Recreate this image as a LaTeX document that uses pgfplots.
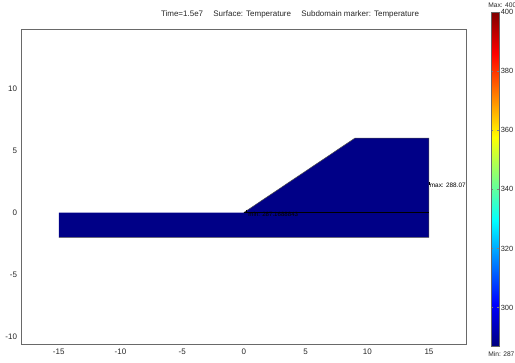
\documentclass[border=0pt]{standalone}
\usepackage{pgfplots}
\pgfplotsset{compat=1.18}
\usepackage{fontspec}
\setmainfont{Liberation Sans}
\definecolor{domainblue}{rgb}{0,0,0.53}
\definecolor{axgray}{RGB}{105,105,105}
\begin{document}
\begin{tikzpicture}[x=1pt,y=1pt]
\useasboundingbox (0,0) rectangle (386.25,271.5);
\begin{axis}[
 at={(16.3pt,13.5pt)}, anchor=south west,
 scale only axis, width=333.2pt, height=236.25pt,
 xmin=-18, xmax=18, ymin=-10.6, ymax=14.8,
 xtick={-15,-10,...,15}, ytick={-10,-5,...,10},
 major tick length=0pt,
 axis line style={axgray, line width=0.6pt},
 tick label style={font=\fontsize{6}{7}\selectfont, text=black!85},
 /pgf/number format/assume math mode=true,
 colormap/jet,
 point meta min=287, point meta max=400,
 colorbar,
 colorbar style={
   at={(parent axis.south east)}, anchor=south west,
   xshift=10.5pt, yshift=-1.5pt,
   scale only axis, width=5.5pt, height=250.5pt,
   ytick={300,320,...,400},
   yticklabel pos=right,
   tick align=inside,
   major tick length=1.5pt,
   axis line style={black!60, line width=0.3pt},
   yticklabel style={font=\fontsize{5.6}{6.5}\selectfont, xshift=-2pt, text=black!85},
   /pgf/number format/assume math mode=true,
 },
]
\addplot[fill=domainblue, draw=none] coordinates {(-15,-2) (15,-2) (15,6) (9,6) (0,0) (-15,0)} -- cycle;
\addplot[draw=black!70, line width=0.4pt] coordinates {(-15,-2) (15,-2) (15,6) (9,6) (0,0)};
\addplot[draw=black, line width=0.5pt] coordinates {(0,0) (15,0)};
\addplot[only marks, mark=|, mark size=1.2pt, black] coordinates {(15,2.35)};
\addplot[only marks, mark=|, mark size=1pt, black] coordinates {(0.2,0.1)};
\node[anchor=west, inner sep=0pt, font=\fontsize{4.6}{5}\selectfont] at (axis cs:0.35,-0.15) {min: 287.1688843};
\node[anchor=west, inner sep=0pt, font=\fontsize{4.8}{5}\selectfont] at (axis cs:15.05,2.2) {max: 288.07};
\end{axis}
\node[font=\fontsize{6}{7}\selectfont, text=black!85] at (217.5,261) {Time=1.5e7\hspace{6pt} Surface: Temperature\hspace{6pt} Subdomain marker: Temperature};
\node[anchor=west, inner sep=0pt, font=\fontsize{5}{6}\selectfont, text=black!85] at (366,267.75) {Max: 400};
\node[anchor=west, inner sep=0pt, font=\fontsize{5}{6}\selectfont, text=black!85] at (366,6) {Min: 287};
\end{tikzpicture}
\end{document}
